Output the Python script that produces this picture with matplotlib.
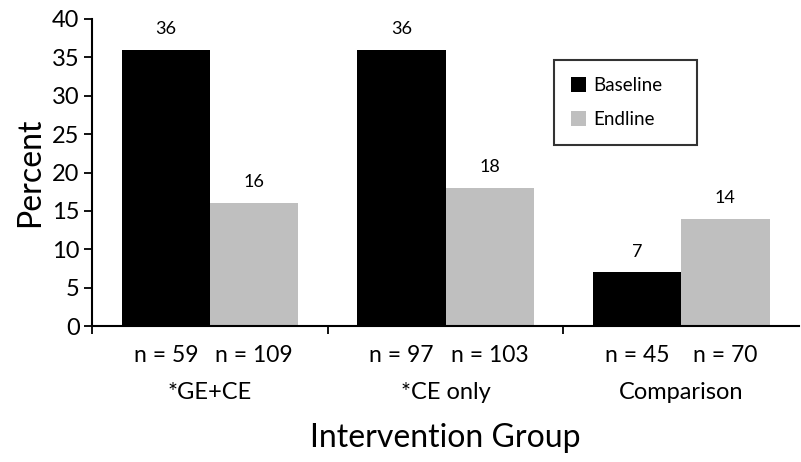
import numpy as np
import matplotlib.pyplot as plt

plt.rcParams['font.family'] = ['Lato', 'DejaVu Sans']

groups = ['*GE+CE', '*CE only', 'Comparison']
baseline = [36, 36, 7]
endline = [16, 18, 14]
n_base = [59, 97, 45]
n_end = [109, 103, 70]

fig = plt.figure(figsize=(8.01, 4.62), dpi=100)
ax = fig.add_axes([0.115, 0.294, 0.8826, 0.665])

x = np.arange(len(groups))
w = 0.375
b1 = ax.bar(x - w / 2, baseline, w, color='black', label='Baseline')
b2 = ax.bar(x + w / 2, endline, w, color='#bfbfbf', label='Endline')

for bars, vals in ((b1, baseline), (b2, endline)):
    for r, v in zip(bars, vals):
        ax.annotate(str(v), (r.get_x() + r.get_width() / 2, v),
                    xytext=(0, 15), textcoords='offset points',
                    ha='center', va='center', fontsize=13)

for i in range(len(groups)):
    ax.text(x[i] - w / 2, -3.8, 'n = %d' % n_base[i], ha='center', va='center', fontsize=16.5)
    ax.text(x[i] + w / 2, -3.8, 'n = %d' % n_end[i], ha='center', va='center', fontsize=16.5)
    ax.text(x[i], -8.7, groups[i], ha='center', va='center', fontsize=17)

ax.set_xlim(-0.5, 2.5)
ax.set_ylim(0, 40)
ax.set_yticks(range(0, 41, 5))
ax.set_xticks([])
ax.set_xticks([-0.5, 0.5, 1.5], minor=True)
ax.tick_params(axis='x', which='minor', length=6, width=1.3, direction='out')
ax.tick_params(axis='y', length=6, width=1.3, labelsize=17, pad=3)
for s in ('top', 'right'):
    ax.spines[s].set_visible(False)
for s in ('left', 'bottom'):
    ax.spines[s].set_linewidth(1.5)

ax.set_ylabel('Percent', fontsize=23, labelpad=5)
ax.text(1.0, -14.5, 'Intervention Group', ha='center', va='center', fontsize=23)

leg = ax.legend(loc='upper left', bbox_to_anchor=(0.6535, 0.5896, 0.2023, 0.2764),
                mode='expand', fontsize=13.5,
                frameon=True, fancybox=False, handlelength=0.8, handleheight=0.8,
                borderpad=0.9, labelspacing=0.9, handletextpad=0.4,
                borderaxespad=0)
leg.get_frame().set_edgecolor('black')
leg.get_frame().set_linewidth(1.5)

fig.savefig('out.png', dpi=100)
